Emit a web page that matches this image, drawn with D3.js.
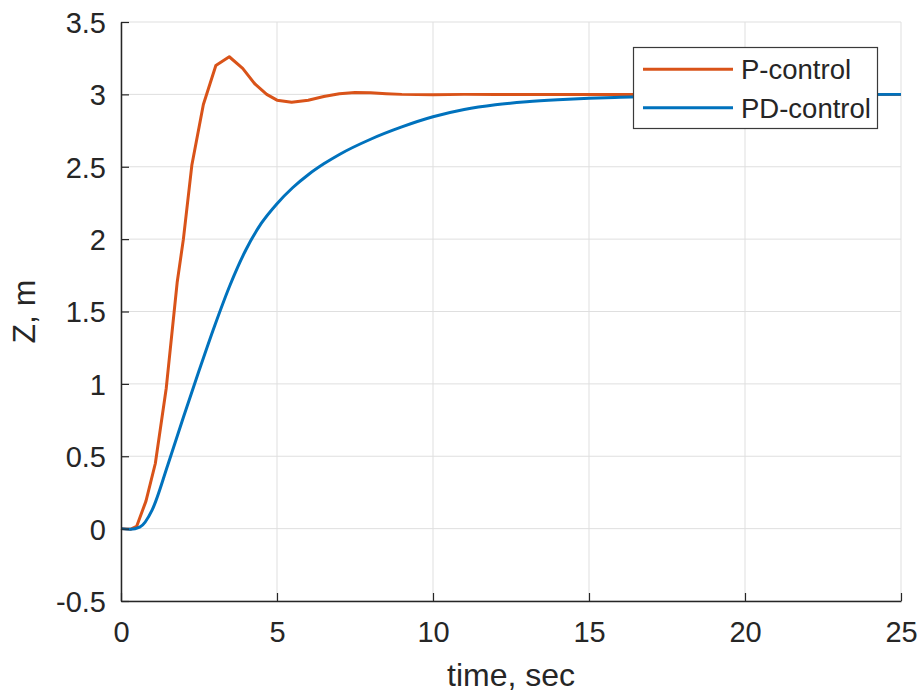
<!DOCTYPE html>
<html>
<head>
<meta charset="utf-8">
<script src="https://cdn.jsdelivr.net/npm/d3@7/dist/d3.min.js"></script>
<style>
  html, body { margin: 0; padding: 0; background: #fff; }
  svg { display: block; font-family: "Liberation Sans", Arial, Helvetica, sans-serif; }
</style>
</head>
<body>
<svg id="chart" width="922" height="692"></svg>
<script>
// Step response of the altitude loop: P vs PD controller
const pTime  = [0, 0.3, 0.5, 0.8, 1.1, 1.45, 1.8, 2.0, 2.27, 2.64, 3.04, 3.47, 3.9, 4.3, 4.67, 5.0, 5.47, 6.0, 6.5, 7.0, 7.5, 8.0, 8.5, 9.0, 10, 11, 12, 15, 20, 25];
const pZ     = [0, -0.005, 0.015, 0.19, 0.45, 0.97, 1.7, 2.0, 2.51, 2.93, 3.20, 3.26, 3.18, 3.07, 3.0, 2.96, 2.945, 2.96, 2.985, 3.005, 3.013, 3.012, 3.005, 3.0, 2.998, 3.0, 3.0, 3.0, 3.0, 3.0];

const pdTime = [0, 0.3, 0.6, 1.0, 1.5, 2.0, 2.5, 3.0, 3.5, 4.0, 4.5, 5.0, 5.5, 6, 6.5, 7, 8, 9, 10, 11, 12, 13, 14, 15, 16, 17, 18, 20, 22, 25];
const pdZ    = [0, -0.005, 0.01, 0.13, 0.44, 0.77, 1.09, 1.40, 1.685, 1.925, 2.11, 2.245, 2.355, 2.445, 2.52, 2.585, 2.69, 2.775, 2.845, 2.895, 2.928, 2.949, 2.963, 2.973, 2.98, 2.986, 2.99, 2.995, 2.998, 3.0];

const xTicks = [0, 5, 10, 15, 20, 25];
const yTicks = [-0.5, 0, 0.5, 1, 1.5, 2, 2.5, 3, 3.5];
const seriesNames = ["P-control", "PD-control"];
const seriesColors = ["#D95319", "#0072BD"];

const svg = d3.select("#chart");
const plotLeft = 121, plotRight = 901, plotTop = 22, plotBottom = 601;
const ink = "#262626";

const x = d3.scaleLinear().domain([0, 25]).range([plotLeft, plotRight]);
const y = d3.scaleLinear().domain([-0.5, 3.5]).range([plotBottom, plotTop]);

// grid
const grid = svg.append("g").attr("stroke", "#dfdfdf").attr("stroke-width", 1);
grid.selectAll("line.gx").data(xTicks).join("line")
  .attr("x1", d => x(d)).attr("x2", d => x(d))
  .attr("y1", plotTop).attr("y2", plotBottom);
grid.selectAll("line.gy").data(yTicks).join("line")
  .attr("x1", plotLeft).attr("x2", plotRight)
  .attr("y1", d => y(d)).attr("y2", d => y(d));

// curves (blue drawn last so it sits on top)
const pData = pTime.map((t, i) => [t, pZ[i]]);
const pdData = pdTime.map((t, i) => [t, pdZ[i]]);

svg.append("path").datum(pData)
  .attr("fill", "none").attr("stroke", seriesColors[0]).attr("stroke-width", 3)
  .attr("stroke-linejoin", "round")
  .attr("d", d3.line().x(d => x(d[0])).y(d => y(d[1])).curve(d3.curveLinear));

svg.append("path").datum(pdData)
  .attr("fill", "none").attr("stroke", seriesColors[1]).attr("stroke-width", 3)
  .attr("stroke-linejoin", "round")
  .attr("d", d3.line().x(d => x(d[0])).y(d => y(d[1])).curve(d3.curveMonotoneX));

// axes: ticks point inward
const xAxis = d3.axisBottom(x).tickValues(xTicks).tickSizeInner(-8).tickSizeOuter(0).tickPadding(20)
  .tickFormat(d3.format("d"));
const yAxis = d3.axisLeft(y).tickValues(yTicks).tickSizeInner(-8).tickSizeOuter(0).tickPadding(15)
  .tickFormat(d => d === 0 ? "0" : String(d));

const gx = svg.append("g").attr("transform", `translate(0,${plotBottom})`).call(xAxis);
const gy = svg.append("g").attr("transform", `translate(${plotLeft},0)`).call(yAxis);

[gx, gy].forEach(g => {
  g.select(".domain").attr("stroke", ink).attr("stroke-width", 1.5);
  g.selectAll(".tick line").attr("stroke", ink).attr("stroke-width", 1.2);
  g.selectAll(".tick text").attr("fill", ink).attr("font-size", 29)
    .attr("font-family", "'Liberation Sans', Arial, sans-serif");
});
gx.selectAll(".tick text").attr("dy", "0.71em");
gy.selectAll(".tick text").attr("dy", "0.36em");

// axis titles
svg.append("text").attr("x", (plotLeft + plotRight) / 2).attr("y", 686)
  .attr("text-anchor", "middle").attr("font-size", 32).attr("fill", ink)
  .text("time, sec");
svg.append("text").attr("transform", `translate(35,${(plotTop + plotBottom) / 2}) rotate(-90)`)
  .attr("text-anchor", "middle").attr("font-size", 32).attr("fill", ink)
  .text("Z, m");

// legend
const lg = svg.append("g");
lg.append("rect").attr("x", 633.5).attr("y", 47.5).attr("width", 244).attr("height", 81)
  .attr("fill", "#fff").attr("stroke", "#3a3a3a").attr("stroke-width", 1.2);
const rowY = [69.3, 107.7];
seriesNames.forEach((name, i) => {
  lg.append("line").attr("x1", 643).attr("x2", 733).attr("y1", rowY[i]).attr("y2", rowY[i])
    .attr("stroke", seriesColors[i]).attr("stroke-width", 3);
  lg.append("text").attr("x", 741).attr("y", rowY[i]).attr("dy", "0.36em")
    .attr("font-size", 27.5).attr("fill", ink).text(name);
});
</script>
</body>
</html>
